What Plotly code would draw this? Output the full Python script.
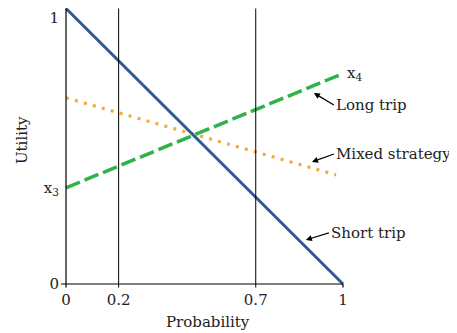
import plotly.graph_objects as go

# data
prob = [0, 1]
short_trip = [1.0, 0.0]
long_trip = [0.349, 0.764]
mixed_x = [0, 0.975]
mixed = [0.676, 0.396]
guide_x = [0.19, 0.685]          # vertical guide lines (labelled 0.2 and 0.7)
x_tickvals = [0, 0.19, 0.685, 1]
x_ticktext = ["0", "0.2", "0.7", "1"]
y_tickvals = [0, 0.349, 0.966]
y_ticktext = ["0", "x<sub>3</sub>", "1"]

serif = "DejaVu Serif"
blue = "#2d5b93"
green = "#2fb24a"
orange = "#f5a93a"

fig = go.Figure()

# axis lines and guides
fig.add_shape(type="line", x0=0, x1=0, y0=-0.013, y1=1, line=dict(color="black", width=1.2))
fig.add_shape(type="line", x0=-0.018, x1=1, y0=0, y1=0, line=dict(color="black", width=1.2))
fig.add_shape(type="line", x0=1, x1=1, y0=-0.013, y1=0, line=dict(color="black", width=1.2))
for gx in guide_x:
    fig.add_shape(type="line", x0=gx, x1=gx, y0=-0.013, y1=1, line=dict(color="black", width=1))

fig.add_trace(go.Scatter(x=mixed_x, y=mixed, mode="lines",
                         line=dict(color=orange, width=3.2, dash="3px,6.3px")))
fig.add_trace(go.Scatter(x=prob, y=long_trip, mode="lines",
                         line=dict(color=green, width=3.5, dash="15px,5px")))
fig.add_trace(go.Scatter(x=prob, y=short_trip, mode="lines",
                         line=dict(color=blue, width=3)))

font = dict(family=serif, size=15, color="#222")

arrows = [
    ("Long trip", 0.895, 0.693, 20, 12),
    ("Mixed strategy", 0.888, 0.443, 22, -8),
    ("Short trip", 0.866, 0.160, 23, -7),
]
for txt, hx, hy, ax, ay in arrows:
    fig.add_annotation(x=hx, y=hy, text=txt, showarrow=True, ax=ax, ay=ay,
                       xanchor="left", yanchor="middle", arrowhead=2, arrowsize=1,
                       arrowwidth=1.2, arrowcolor="black", font=font)

fig.add_annotation(x=1, y=0.764, text="x<sub>4</sub>", showarrow=False,
                   xanchor="left", xshift=2, font=font)

fig.add_annotation(x=0.51, y=-0.117, xref="paper", yref="paper", text="Probability",
                   showarrow=False, xanchor="center", yanchor="middle", font=font)
fig.add_annotation(x=-0.131, y=0.53, xref="paper", yref="paper", text="Utility",
                   showarrow=False, textangle=-90, xanchor="center", yanchor="middle",
                   font=font)

fig.update_layout(
    width=449, height=325,
    margin=dict(l=52, r=107, t=0, b=44),
    plot_bgcolor="white", paper_bgcolor="white",
    showlegend=False,
    font=font,
    xaxis=dict(range=[-0.0217, 1.0253], showgrid=False, zeroline=False, showline=False,
               tickvals=x_tickvals, ticktext=x_ticktext, ticks=""),
    yaxis=dict(range=[-0.0182, 1.0018], showgrid=False, zeroline=False, showline=False,
               tickvals=y_tickvals, ticktext=y_ticktext, ticks=""),
)

fig.write_html("out.html")
